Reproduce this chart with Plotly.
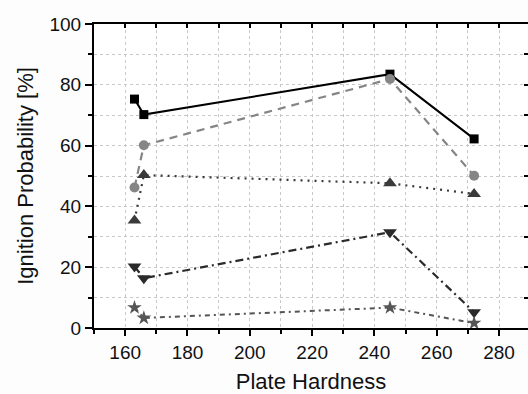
import plotly.graph_objects as go

hardness = [163, 166, 245, 272]
s_square = [75.3, 70.2, 83.5, 62.2]
s_circle = [46.2, 60.1, 81.9, 50.1]
s_up = [35.4, 50.3, 47.6, 44.1]
s_down = [20.2, 16.4, 31.5, 5.2]
s_star = [6.7, 3.3, 6.7, 1.6]

x_ticks = [160, 180, 200, 220, 240, 260, 280]
y_ticks = [0, 20, 40, 60, 80, 100]

FONT = "Arial"

series = [
    (s_square, "square", 9, "#000000", "#000000", "solid", 2),
    (s_circle, "circle", 10, "#858585", "#858585", "8px,6px", 2.2),
    (s_up, "triangle-up", 12, "#3a3a3a", "#3a3a3a", "2px,5px", 2.2),
    (s_down, "triangle-down", 12, "#2a2a2a", "#2a2a2a", "8px,4px,2px,4px", 2.2),
    (s_star, "star", 11, "#555555", "#555555", "5px,4px,2px,4px", 2),
]

fig = go.Figure()
for ys, sym, size, mcol, lcol, dash, lw in series:
    fig.add_trace(go.Scatter(
        x=hardness, y=ys, mode="lines+markers",
        marker=dict(symbol=sym, size=size, color=mcol, line=dict(width=0)),
        line=dict(color=lcol, dash=dash, width=lw),
        showlegend=False,
    ))

# invisible trace for top/right axes
fig.add_trace(go.Scatter(x=[150], y=[0], xaxis="x2", yaxis="y2",
                         mode="markers", marker=dict(opacity=0), showlegend=False,
                         hoverinfo="skip"))

XR = [150, 289.3]
YR = [0, 100]

fig.update_layout(
    width=528, height=394,
    margin=dict(l=94, r=0, t=24, b=66),
    paper_bgcolor="#fdfdfd", plot_bgcolor="#ffffff",
    font=dict(family=FONT, color="#111111"),
    xaxis=dict(
        range=XR, tickvals=x_ticks, ticktext=[str(v) for v in x_ticks],
        ticks="outside", ticklen=6, tickwidth=2, tickcolor="#000",
        showline=True, linecolor="#000", linewidth=2,
        showgrid=True, gridcolor="#c8c8c8", griddash="dot", gridwidth=1,
        minor=dict(dtick=10, tick0=150, ticks="outside", ticklen=4, tickwidth=2,
                   tickcolor="#000", showgrid=True, gridcolor="#c8c8c8",
                   griddash="dot", gridwidth=1),
        tickfont=dict(size=19, family=FONT, color="#111"),
        title=dict(text="Plate Hardness", font=dict(size=22, family=FONT, color="#111"),
                   standoff=12),
        zeroline=False,
    ),
    yaxis=dict(
        range=YR, tickvals=y_ticks, ticktext=[str(v) for v in y_ticks],
        ticks="outside", ticklen=7, tickwidth=2, tickcolor="#000",
        showline=True, linecolor="#000", linewidth=2,
        showgrid=True, gridcolor="#c8c8c8", griddash="dot", gridwidth=1,
        minor=dict(dtick=10, tick0=0, ticks="outside", ticklen=4, tickwidth=2,
                   tickcolor="#000", showgrid=True, gridcolor="#c8c8c8",
                   griddash="dot", gridwidth=1),
        tickfont=dict(size=19, family=FONT, color="#111"),
        title=dict(text="Ignition Probability [%]",
                   font=dict(size=22, family=FONT, color="#111"), standoff=10),
        zeroline=False,
    ),
    xaxis2=dict(
        range=XR, overlaying="x", side="top", anchor="y",
        tickvals=list(range(150, 290, 10)), ticks="inside", ticklen=4, tickwidth=2,
        tickcolor="#000", showticklabels=False, showline=True, linecolor="#000",
        linewidth=2, showgrid=False, zeroline=False,
    ),
    yaxis2=dict(
        range=YR, overlaying="y", side="right", anchor="x",
        tickvals=list(range(0, 101, 10)), ticks="inside", ticklen=4, tickwidth=2,
        tickcolor="#000", showticklabels=False, showline=False,
        showgrid=False, zeroline=False,
    ),
)

fig.write_html("out.html")
